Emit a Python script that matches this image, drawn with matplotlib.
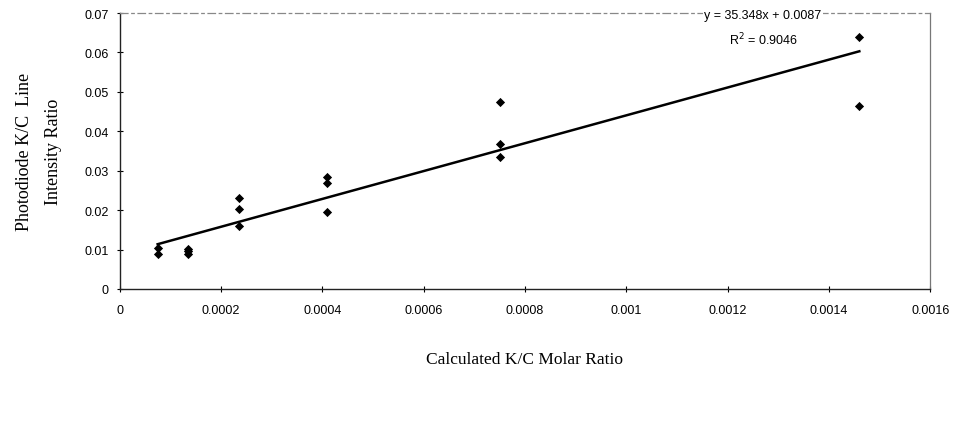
import matplotlib
matplotlib.use("Agg")
import matplotlib.pyplot as plt
import numpy as np

# calculated K/C molar ratio for each measurement
molar_ratio = [0.000075, 0.000075,
               0.000135, 0.000135, 0.000135,
               0.000235, 0.000235, 0.000235,
               0.00041, 0.00041, 0.00041,
               0.00075, 0.00075, 0.00075,
               0.00146, 0.00146]
# photodiode K/C line intensity ratio
intensity_ratio = [0.0105, 0.0089,
                   0.0102, 0.0097, 0.0089,
                   0.0232, 0.0203, 0.0159,
                   0.0283, 0.0268, 0.0194,
                   0.0474, 0.0367, 0.0336,
                   0.0640, 0.0463]

slope = 35.348
intercept = 0.0087
r_squared = 0.9046

x_ticks = [0, 0.0002, 0.0004, 0.0006, 0.0008, 0.001, 0.0012, 0.0014, 0.0016]
x_tick_labels = ["0", "0.0002", "0.0004", "0.0006", "0.0008", "0.001",
                 "0.0012", "0.0014", "0.0016"]
y_ticks = [0, 0.01, 0.02, 0.03, 0.04, 0.05, 0.06, 0.07]
y_tick_labels = ["0", "0.01", "0.02", "0.03", "0.04", "0.05", "0.06", "0.07"]

SANS = "Liberation Sans"
SERIF = "Liberation Serif"

fig = plt.figure(figsize=(9.65, 4.27), dpi=100)
ax = fig.add_axes([0.124, 0.321, 0.840, 0.646])

ax.scatter(molar_ratio, intensity_ratio, marker="D", s=22, color="black",
           zorder=3, linewidths=0)

x_fit = np.array([min(molar_ratio), max(molar_ratio)])
ax.plot(x_fit, slope * x_fit + intercept, color="black", linewidth=1.8, zorder=2)

ax.set_xlim(0, 0.0016)
ax.set_ylim(0, 0.07)
ax.set_xticks(x_ticks)
ax.set_xticklabels(x_tick_labels, fontfamily=SANS, fontsize=9)
ax.set_yticks(y_ticks)
ax.set_yticklabels(y_tick_labels, fontfamily=SANS, fontsize=9)
ax.tick_params(axis="x", direction="inout", length=4, width=0.8, pad=9)
ax.tick_params(axis="y", direction="inout", length=4, width=0.8, pad=6)
ax.tick_params(top=False, right=False)

for side in ("left", "bottom"):
    ax.spines[side].set_color("#222222")
    ax.spines[side].set_linewidth(1.0)
ax.spines["top"].set_color("#888888")
ax.spines["top"].set_linewidth(0.9)
ax.spines["top"].set_linestyle((0, (6, 3, 2, 3)))
ax.spines["right"].set_color("#777777")
ax.spines["right"].set_linewidth(0.9)

ax.set_xlabel("Calculated K/C Molar Ratio", fontfamily=SERIF, fontsize=12.5,
              labelpad=25)
ax.set_ylabel("Photodiode K/C  Line\nIntensity Ratio", fontfamily=SERIF,
              fontsize=13, labelpad=16, linespacing=1.9)

ax.text(0.00127, 0.0695, f"y = {slope}x + {intercept}", fontfamily=SANS,
        fontsize=9, ha="center", va="center",
        bbox=dict(facecolor="white", edgecolor="none", pad=1))
ax.text(0.00127, 0.0634, f"R$^2$ = {r_squared}", fontfamily=SANS,
        fontsize=9, ha="center", va="center")

fig.savefig("out.png", dpi=100)
